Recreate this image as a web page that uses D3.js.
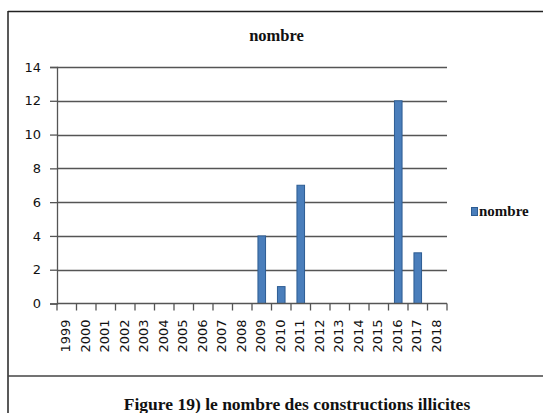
<!DOCTYPE html>
<html><head><meta charset="utf-8">
<script src="https://cdn.jsdelivr.net/npm/d3@7"></script>
<style>html,body{margin:0;padding:0;background:#fff;}svg{display:block;}</style>
</head><body>
<script>
const categories = ["1999","2000","2001","2002","2003","2004","2005","2006","2007","2008","2009","2010","2011","2012","2013","2014","2015","2016","2017","2018"];
const values = [0,0,0,0,0,0,0,0,0,0,4,1,7,0,0,0,0,12,3,0];
const yTicks = [0,2,4,6,8,10,12,14];
const seriesName = "nombre";
const chartTitle = "nombre";
const caption = "Figure 19) le nombre des constructions illicites";

const W = 543, H = 413;
const svg = d3.select("body").append("svg").attr("width", W).attr("height", H);

// frame
const frameColor = "#222";
svg.append("line").attr("x1",8).attr("x2",W).attr("y1",11.5).attr("y2",11.5).attr("stroke",frameColor).attr("stroke-width",1.5);
svg.append("line").attr("x1",8).attr("x2",8).attr("y1",11).attr("y2",H).attr("stroke",frameColor).attr("stroke-width",1.5);
svg.append("line").attr("x1",8).attr("x2",W).attr("y1",376).attr("y2",376).attr("stroke","#444").attr("stroke-width",1.5);

const x = d3.scaleBand().domain(categories).range([57, 447]).paddingInner(0).paddingOuter(0);
const y = d3.scaleLinear().domain([0,14]).range([303.5, 67]);

const gridColor = "#555";
// gridlines
svg.append("g").selectAll("line").data(yTicks.filter(d=>d>0)).join("line")
  .attr("x1",57).attr("x2",447).attr("y1",d=>Math.round(y(d))+0.5).attr("y2",d=>Math.round(y(d))+0.5)
  .attr("stroke",gridColor).attr("stroke-width",1.3);

// y axis
const yAxis = svg.append("g").attr("transform","translate(57,0)")
  .call(d3.axisLeft(y).tickValues(yTicks).tickSize(7).tickPadding(9).tickFormat(d3.format("d")));
yAxis.select(".domain").attr("stroke",gridColor).attr("stroke-width",1.3);
yAxis.selectAll(".tick line").attr("stroke",gridColor).attr("stroke-width",1.3);
yAxis.selectAll("text").attr("font-family","DejaVu Sans").attr("font-size",13).attr("fill","#111");

// bars
const bw = 7.6;
svg.append("g").selectAll("rect").data(values.map((v,i)=>({c:categories[i],v})).filter(d=>d.v>0)).join("rect")
  .attr("x",d=>x(d.c)+x.bandwidth()/2-bw/2).attr("width",bw)
  .attr("y",d=>y(d.v)).attr("height",d=>y(0)-y(d.v))
  .attr("fill","#4a7ebb").attr("stroke","#2d5c92").attr("stroke-width",1);

// x axis
const xAxisG = svg.append("g").attr("transform",`translate(0,${y(0)})`);
xAxisG.append("line").attr("x1",57).attr("x2",447).attr("y1",0).attr("y2",0).attr("stroke",gridColor).attr("stroke-width",1.3);
const bounds = categories.map(c=>x(c)).concat([x(categories[categories.length-1])+x.bandwidth()]);
xAxisG.selectAll("line.tk").data(bounds).join("line").attr("class","tk")
  .attr("x1",d=>d).attr("x2",d=>d).attr("y1",0).attr("y2",7).attr("stroke",gridColor).attr("stroke-width",1.3);
xAxisG.selectAll("text").data(categories).join("text")
  .attr("transform",d=>`translate(${x(d)+x.bandwidth()/2-1},16) rotate(-90)`)
  .attr("text-anchor","end").attr("dy","0.35em")
  .attr("font-family","DejaVu Sans").attr("font-size",13).attr("fill","#111").text(d=>d);

// title
svg.append("text").attr("x",276.5).attr("y",41).attr("text-anchor","middle")
  .attr("font-family","Liberation Serif").attr("font-weight","bold").attr("font-size",16.5).attr("fill","#111").text(chartTitle);

// legend
svg.append("rect").attr("x",471.5).attr("y",207.5).attr("width",6).attr("height",8)
  .attr("fill","#4a7ebb").attr("stroke","#2d5c92").attr("stroke-width",1);
svg.append("text").attr("x",479).attr("y",216).attr("font-family","Liberation Serif").attr("font-weight","bold")
  .attr("font-size",15).attr("fill","#111").text(seriesName);

// caption
svg.append("text").attr("x",297).attr("y",410).attr("text-anchor","middle")
  .attr("font-family","Liberation Serif").attr("font-weight","bold").attr("font-size",17.5).attr("fill","#111").text(caption);
</script>
</body></html>
